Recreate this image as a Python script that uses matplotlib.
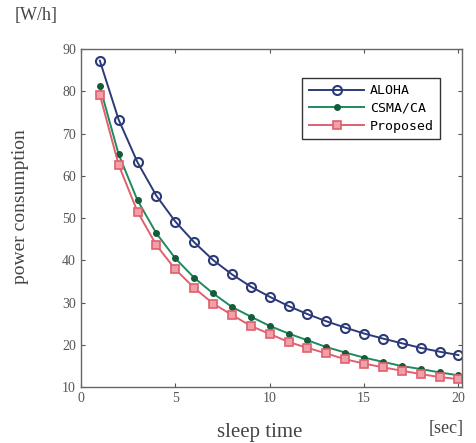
import numpy as np
import matplotlib
matplotlib.use("Agg")
import matplotlib.pyplot as plt

sleep_time = np.arange(1, 21)
aloha = [87.3, 73.3, 63.2, 55.3, 49.2, 44.3, 40.1, 36.7, 33.8, 31.4,
         29.2, 27.3, 25.6, 24.1, 22.7, 21.5, 20.4, 19.3, 18.4, 17.6]
csma = [81.2, 65.1, 54.2, 46.4, 40.5, 35.9, 32.2, 29.0, 26.7, 24.5,
        22.7, 21.1, 19.5, 18.2, 17.0, 16.0, 15.0, 14.3, 13.5, 12.8]
proposed = [79.2, 62.6, 51.5, 43.6, 37.9, 33.5, 29.8, 27.1, 24.5, 22.6,
            20.7, 19.3, 18.0, 16.6, 15.6, 14.7, 13.9, 13.1, 12.4, 11.9]

x_ticks = [0, 5, 10, 15, 20]
y_ticks = [10, 20, 30, 40, 50, 60, 70, 80, 90]

serif = "Liberation Serif"
mono = "DejaVu Sans Mono"

fig = plt.figure(figsize=(4.76, 4.43), dpi=100)
ax = fig.add_axes([0.170, 0.126, 0.801, 0.763])

ax.plot(sleep_time, aloha, color="#2c3a78", lw=1.4, marker="o", ms=6.5,
        mfc="none", mec="#2c3a78", mew=1.5, label="ALOHA")
ax.plot(sleep_time, csma, color="#1f8a5a", lw=1.4, marker="o", ms=4,
        mfc="#145c3a", mec="#145c3a", label="CSMA/CA")
ax.plot(sleep_time, proposed, color="#e0606e", lw=1.4, marker="s", ms=5.5,
        mfc="#f0a0a8", mec="#e0606e", mew=1.2, label="Proposed")

ax.set_xlim(0, 20.2)
ax.set_ylim(10, 90)
ax.set_xticks(x_ticks)
ax.set_yticks(y_ticks)
ax.tick_params(direction="in", top=True, right=True, length=3, width=0.8,
               labelsize=10, colors="#555555", labelcolor="#555555")
for lab in ax.get_xticklabels() + ax.get_yticklabels():
    lab.set_fontfamily(serif)
for sp in ax.spines.values():
    sp.set_color("#666666")
    sp.set_linewidth(1.0)

ax.set_ylabel("power consumption", fontfamily=serif, fontsize=14,
              color="#444444")
ax.yaxis.set_label_coords(-0.135, 0.535)
ax.set_xlabel("sleep time", fontfamily=serif, fontsize=15,
              color="#444444")
ax.xaxis.set_label_coords(0.47, -0.105)
fig.text(0.03, 0.955, "[W/h]", fontfamily=serif, fontsize=13, color="#444444")
fig.text(0.9, 0.022, "[sec]", fontfamily=serif, fontsize=13, color="#444444")

leg = ax.legend(loc="upper right", bbox_to_anchor=(0.96, 0.935),
                prop={"family": mono, "size": 9.5}, fancybox=False,
                framealpha=1, edgecolor="#333333", handlelength=4.2,
                borderpad=0.5, labelspacing=0.35, handletextpad=0.4)
leg.get_frame().set_linewidth(1.0)

fig.savefig("out.png", dpi=100)
